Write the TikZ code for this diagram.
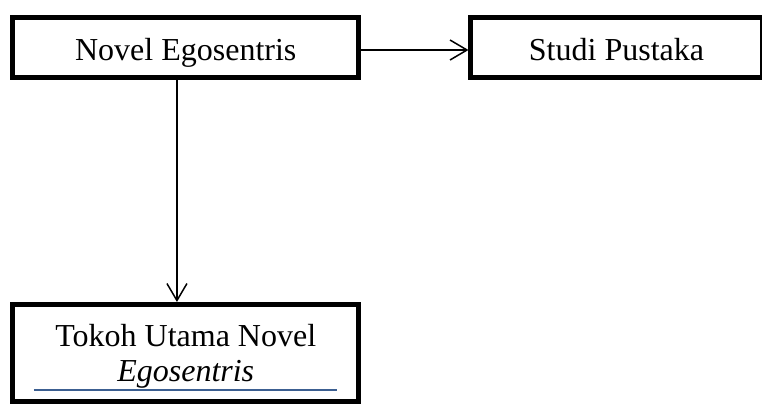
\documentclass[tikz,border=0pt]{standalone}
\usepackage{fontspec}
\setmainfont{Liberation Serif}
\usetikzlibrary{positioning,arrows.meta}
\definecolor{lineblue}{RGB}{60,95,145}

\begin{document}
\begin{tikzpicture}[node distance=56pt, font=\fontsize{16}{17.5}\selectfont,
  box/.style={draw, line width=2.5pt, inner sep=0pt, outer sep=0pt},
  topbox/.style={box, minimum height=30pt, text height=12.5pt, text depth=0pt},
  arrow/.style={-{Straight Barb[length=8.5pt,width=10pt]}, line width=0.75pt, shorten >=1.25pt}]
\path[use as bounding box] (-92.875pt,23.75pt) rectangle ++(381pt,-201.5pt);
\node[topbox, minimum width=173.25pt] (novel) at (0,0) {Novel Egosentris};
\node[topbox, minimum width=145.5pt] (studi) [right=of novel] {Studi Pustaka};
\node[box, minimum width=173.25pt, minimum height=48.5pt, align=center] (tokoh) [below=113.5pt of novel] {\rule{0pt}{14.6pt}Tokoh Utama Novel\\ \textit{Egosentris}};
\draw[arrow] ([yshift=-1.25pt]novel.east) -- ([yshift=-1.25pt]studi.west);
\draw[arrow] ([xshift=-4.4pt]novel.south) -- ([xshift=-4.4pt]tokoh.north);
\draw[lineblue, line width=1pt] ([xshift=10.75pt,yshift=5.9pt]tokoh.south west) -- ([xshift=-11pt,yshift=5.9pt]tokoh.south east);
\end{tikzpicture}
\end{document}
